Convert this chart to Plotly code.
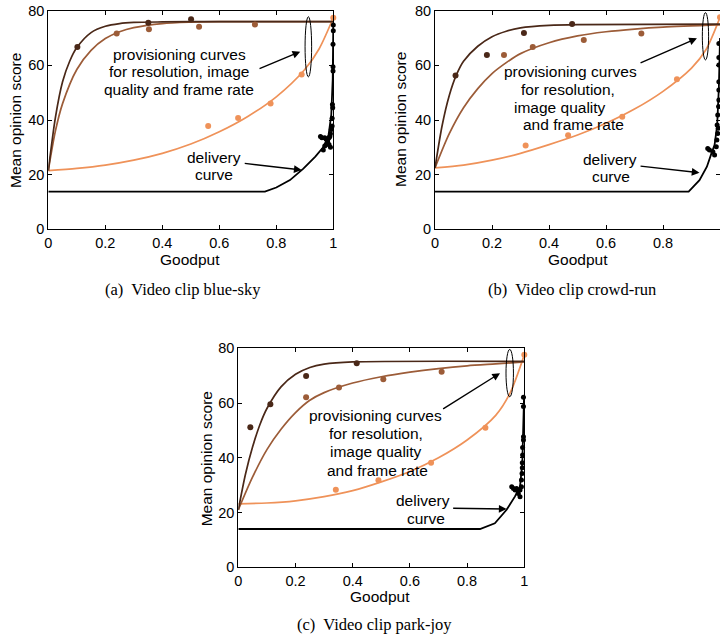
import plotly.graph_objects as go

# ---- axis ticks -------------------------------------------------------------
GOODPUT_TICKS = [0, 0.2, 0.4, 0.6, 0.8, 1]
GOODPUT_TICK_TEXT = ["0", "0.2", "0.4", "0.6", "0.8", "1"]
MOS_TICKS = [0, 20, 40, 60, 80]

# ---- (a) blue-sky -------------------------------------------------------------
bs_res_x = [0.102, 0.351, 0.501]
bs_res_y = [66.7, 75.6, 76.9]
bs_qual_x = [0.240, 0.353, 0.529, 0.725]
bs_qual_y = [71.7, 73.2, 74.1, 75.0]
bs_rate_x = [0.561, 0.666, 0.780, 0.889, 1.0]
bs_rate_y = [37.8, 40.7, 46.0, 56.7, 77.4]

bs_res_curve_x = [0, 0.025, 0.05, 0.075, 0.1, 0.15, 0.2, 0.25, 0.3, 0.4, 0.5, 1.0]
bs_res_curve_y = [21.5, 41, 54, 61.5, 66.5, 72, 74.3, 75.3, 75.7, 75.9, 76, 76]
bs_qual_curve_x = [0, 0.025, 0.05, 0.1, 0.15, 0.2, 0.25, 0.3, 0.4, 0.5, 0.6, 1.0]
bs_qual_curve_y = [21.5, 36, 46, 58.5, 65.5, 69.8, 72.3, 73.8, 75.3, 75.8, 76, 76]
bs_rate_curve_x = [0, 0.1, 0.2, 0.3, 0.4, 0.5, 0.6, 0.7, 0.8, 0.9, 0.95, 1.0]
bs_rate_curve_y = [21.5, 22.3, 23.5, 25.3, 27.8, 31.2, 35.7, 41.3, 48.5, 58.5, 66, 77.4]

bs_deliv_x = [0, 0.76, 0.80, 0.848, 0.895, 0.937, 0.966, 0.983, 0.993, 0.998, 1.0]
bs_deliv_y = [13.8, 13.8, 15.3, 18.0, 22.2, 26.6, 30.2, 34.1, 42, 55, 75]
bs_meas_x = [1.0, 1.0, 0.999, 0.999, 0.999, 0.997, 0.998, 0.996, 0.996, 0.993, 0.99,
             0.988, 0.985, 0.98, 0.975, 0.97, 0.965, 0.96, 0.955, 0.985, 0.98, 0.99,
             0.975, 0.97]
bs_meas_y = [74.8, 72.7, 67.7, 59.5, 57.9, 45.7, 44.5, 40.6, 37.8, 36.5, 35, 34, 33.5,
             32, 31, 30.5, 29, 33.5, 34, 31, 32.5, 30, 33, 33.5]

# ---- (b) crowd-run -----------------------------------------------------------
cr_res_x = [0.072, 0.182, 0.312, 0.481]
cr_res_y = [56.3, 63.8, 71.8, 75.1]
cr_qual_x = [0.242, 0.343, 0.522, 0.724]
cr_qual_y = [63.8, 66.7, 69.3, 71.7]
cr_rate_x = [0.318, 0.467, 0.657, 0.849, 1.0]
cr_rate_y = [30.7, 34.4, 41.2, 54.9, 77.6]

cr_res_curve_x = [0, 0.025, 0.05, 0.075, 0.1, 0.15, 0.2, 0.25, 0.3, 0.4, 0.5, 1.0]
cr_res_curve_y = [22.5, 38, 49, 56.5, 61.5, 67, 70.5, 72.5, 73.7, 74.6, 74.9, 75.1]
cr_qual_curve_x = [0, 0.05, 0.1, 0.15, 0.2, 0.25, 0.3, 0.4, 0.5, 0.6, 0.7, 0.8, 1.0]
cr_qual_curve_y = [22.5, 35, 44.5, 51.5, 57, 61, 64.3, 68.3, 70.8, 72.3, 73.3, 74, 74.8]
cr_rate_curve_x = [0, 0.1, 0.2, 0.3, 0.4, 0.5, 0.6, 0.7, 0.8, 0.9, 0.95, 1.0]
cr_rate_curve_y = [22.5, 23.5, 25.3, 27.8, 31, 34.5, 38.8, 44, 50.5, 59, 65.6, 77.6]

cr_deliv_x = [0, 0.890, 0.928, 0.954, 0.970, 0.981, 0.990, 0.996, 1.0]
cr_deliv_y = [13.8, 13.8, 18.0, 22.9, 27.8, 30.9, 38, 52, 70]
cr_meas_x = [0.996, 0.996, 0.996, 0.996, 0.996, 0.992, 0.990, 0.992, 0.963, 0.975,
             0.981, 0.987, 0.957, 0.989, 0.994, 0.995, 0.996]
cr_meas_y = [68.0, 62.9, 60.1, 54.0, 47.3, 41.8, 38.2, 35.1, 29.0, 28.4, 27.2, 30.2,
             29.6, 32.7, 37.0, 44.9, 51.0]

# ---- (c) park-joy ------------------------------------------------------------
pj_res_x = [0.042, 0.112, 0.237, 0.414]
pj_res_y = [51.2, 59.6, 69.9, 74.5]
pj_qual_x = [0.237, 0.352, 0.507, 0.711]
pj_qual_y = [62.1, 65.7, 68.7, 71.4]
pj_rate_x = [0.341, 0.490, 0.674, 0.864, 1.0]
pj_rate_y = [28.3, 31.8, 38.2, 51.0, 77.6]

pj_res_curve_x = [0, 0.025, 0.05, 0.075, 0.1, 0.15, 0.2, 0.25, 0.3, 0.4, 1.0]
pj_res_curve_y = [21, 34, 44, 52, 58, 66, 70.5, 73, 74.2, 75, 75.2]
pj_qual_curve_x = [0, 0.05, 0.1, 0.15, 0.2, 0.25, 0.3, 0.4, 0.5, 0.6, 0.7, 0.8, 0.9, 1.0]
pj_qual_curve_y = [21, 33, 43, 50.5, 56.5, 61, 63.8, 67.3, 69.6, 71.3, 72.6, 73.6, 74.3, 75]
pj_rate_curve_x = [0, 0.1, 0.2, 0.3, 0.4, 0.5, 0.6, 0.7, 0.8, 0.9, 0.95, 1.0]
pj_rate_curve_y = [23.2, 23.5, 24.3, 25.8, 28, 31.2, 35, 40, 46.5, 55.5, 63.6, 77.6]

pj_deliv_x = [0, 0.845, 0.897, 0.938, 0.967, 0.985, 0.993, 0.997, 0.999]
pj_deliv_y = [14, 14, 16.1, 21, 25.8, 29.5, 38, 50, 62]
pj_meas_x = [0.997, 0.997, 0.997, 0.997, 0.994, 0.994, 0.993, 0.993, 0.992, 0.990,
             0.956, 0.968, 0.979, 0.985, 0.973, 0.990, 0.985, 0.962]
pj_meas_y = [62.1, 58.7, 47.7, 46.5, 43.8, 41.0, 38.2, 36.4, 34.3, 31.9,
             29.4, 28.2, 27.0, 25.8, 28.8, 29.4, 28.2, 28.8]

# ---- styling -------------------------------------------------------------------
RES_COLOR = "#4a2818"
QUAL_COLOR = "#9c5c38"
RATE_COLOR = "#ef9259"
SANS = "Liberation Sans, Arial, sans-serif"
SERIF = "Liberation Serif, Times New Roman, serif"
SANS_SIZE = 15.5
TICK_SIZE = 14.5
SERIF_SIZE = 16.5

fig = go.Figure()

panels = [
    ("x", "y",
     (bs_res_curve_x, bs_res_curve_y), (bs_qual_curve_x, bs_qual_curve_y),
     (bs_rate_curve_x, bs_rate_curve_y), (bs_deliv_x, bs_deliv_y),
     (bs_res_x, bs_res_y), (bs_qual_x, bs_qual_y), (bs_rate_x, bs_rate_y),
     (bs_meas_x, bs_meas_y)),
    ("x2", "y2",
     (cr_res_curve_x, cr_res_curve_y), (cr_qual_curve_x, cr_qual_curve_y),
     (cr_rate_curve_x, cr_rate_curve_y), (cr_deliv_x, cr_deliv_y),
     (cr_res_x, cr_res_y), (cr_qual_x, cr_qual_y), (cr_rate_x, cr_rate_y),
     (cr_meas_x, cr_meas_y)),
    ("x3", "y3",
     (pj_res_curve_x, pj_res_curve_y), (pj_qual_curve_x, pj_qual_curve_y),
     (pj_rate_curve_x, pj_rate_curve_y), (pj_deliv_x, pj_deliv_y),
     (pj_res_x, pj_res_y), (pj_qual_x, pj_qual_y), (pj_rate_x, pj_rate_y),
     (pj_meas_x, pj_meas_y)),
]

for (xa, ya, c_res, c_qual, c_rate, deliv, p_res, p_qual, p_rate, meas) in panels:
    for (cx, cy), col in ((c_rate, RATE_COLOR), (c_qual, QUAL_COLOR), (c_res, RES_COLOR)):
        fig.add_trace(go.Scatter(x=cx, y=cy, mode="lines", xaxis=xa, yaxis=ya,
                                 line=dict(color=col, width=1.7, shape="spline", smoothing=0.8),
                                 showlegend=False, hoverinfo="skip"))
    fig.add_trace(go.Scatter(x=deliv[0], y=deliv[1], mode="lines", xaxis=xa, yaxis=ya,
                             line=dict(color="black", width=1.8),
                             showlegend=False, hoverinfo="skip"))
    for (px, py), col in ((p_rate, RATE_COLOR), (p_qual, QUAL_COLOR), (p_res, RES_COLOR)):
        fig.add_trace(go.Scatter(x=px, y=py, mode="markers", xaxis=xa, yaxis=ya,
                                 marker=dict(color=col, size=6),
                                 cliponaxis=False, showlegend=False))
    fig.add_trace(go.Scatter(x=meas[0], y=meas[1], mode="markers", xaxis=xa, yaxis=ya,
                             marker=dict(color="black", size=5),
                             cliponaxis=False, showlegend=False))


def xaxis_style(domain, anchor):
    return dict(domain=domain, anchor=anchor, range=[0, 1], automargin=False,
                tickvals=GOODPUT_TICKS, ticktext=GOODPUT_TICK_TEXT,
                ticks="inside", ticklen=4, tickcolor="black", tickwidth=1,
                showline=True, linecolor="black", linewidth=1.2, mirror="ticks",
                showgrid=False, zeroline=False,
                tickfont=dict(family=SANS, size=TICK_SIZE, color="black"))


def yaxis_style(domain, anchor):
    return dict(domain=domain, anchor=anchor, range=[0, 80], automargin=False,
                tickvals=MOS_TICKS,
                ticks="inside", ticklen=4, tickcolor="black", tickwidth=1,
                showline=True, linecolor="black", linewidth=1.2, mirror="ticks",
                showgrid=False, zeroline=False,
                tickfont=dict(family=SANS, size=TICK_SIZE, color="black"))


annotations = []
shapes = []


def add_text(xa, ya, x, y, text):
    annotations.append(dict(xref=xa, yref=ya, x=x, y=y, text=text, showarrow=False,
                            font=dict(family=SANS, size=SANS_SIZE, color="black"),
                            xanchor="center", yanchor="middle"))


def add_arrow(xa, ya, tail, head):
    annotations.append(dict(xref=xa, yref=ya, axref=xa, ayref=ya,
                            x=head[0], y=head[1], ax=tail[0], ay=tail[1], text="",
                            showarrow=True, arrowhead=2, arrowsize=1.1,
                            arrowwidth=1.4, arrowcolor="black", standoff=0))


def add_ellipse(xa, ya, x0, x1, y0, y1):
    shapes.append(dict(type="circle", xref=xa, yref=ya, x0=x0, x1=x1, y0=y0, y1=y1,
                       line=dict(color="black", width=1)))


# (a)
for x, y, t in ((0.460, 63.8, "provisioning curves"),
                (0.460, 57.6, "for resolution, image"),
                (0.460, 51.0, "quality and frame rate"),
                (0.583, 26.4, "delivery"),
                (0.583, 20.2, "curve")):
    add_text("x", "y", x, y, t)
add_arrow("x", "y", (0.736, 58.6), (0.884, 65.0))
add_arrow("x", "y", (0.684, 24.2), (0.889, 21.7))
add_ellipse("x", "y", 0.901, 0.924, 55.8, 77.8)

# (b)
for x, y, t in ((0.476, 57.7, "provisioning curves"),
                (0.465, 51.2, "for resolution,"),
                (0.439, 44.6, "image quality"),
                (0.485, 38.2, "and frame rate"),
                (0.613, 25.4, "delivery"),
                (0.617, 19.3, "curve")):
    add_text("x2", "y2", x, y, t)
add_arrow("x2", "y2", (0.716, 60.7), (0.919, 69.9))
add_arrow("x2", "y2", (0.716, 23.2), (0.928, 20.7))
add_ellipse("x2", "y2", 0.938, 0.960, 62.0, 79.3)

# (c)
for x, y, t in ((0.480, 55.3, "provisioning curves"),
                (0.480, 48.9, "for resolution,"),
                (0.480, 42.2, "image quality"),
                (0.488, 35.5, "and frame rate"),
                (0.647, 24.3, "delivery"),
                (0.655, 17.9, "curve")):
    add_text("x3", "y3", x, y, t)
add_arrow("x3", "y3", (0.711, 57.5), (0.915, 70.9))
add_arrow("x3", "y3", (0.746, 21.6), (0.938, 21.3))
add_ellipse("x3", "y3", 0.936, 0.962, 62.3, 79.6)

# axis titles and captions (paper coordinates)
for x, y in ((0.2639, 0.5935), (0.8021, 0.5935), (0.5278, 0.0655)):
    annotations.append(dict(xref="paper", yref="paper", x=x, y=y, text="Goodput",
                            showarrow=False, xanchor="center", yanchor="middle",
                            font=dict(family=SANS, size=SANS_SIZE, color="black")))
for x, y in ((0.0208, 0.8119), (0.5569, 0.8135), (0.2861, 0.2816)):
    annotations.append(dict(xref="paper", yref="paper", x=x, y=y,
                            text="Mean opinion score", textangle=-90,
                            showarrow=False, xanchor="center", yanchor="middle",
                            font=dict(family=SANS, size=SANS_SIZE, color="black")))
for x, y, t in ((0.2535, 0.547, "(a)\u00a0 Video clip blue-sky"),
                (0.7940, 0.547, "(b)\u00a0 Video clip crowd-run"),
                (0.5208, 0.0219, "(c)\u00a0 Video clip park-joy")):
    annotations.append(dict(xref="paper", yref="paper", x=x, y=y, text=t,
                            showarrow=False, xanchor="center", yanchor="middle",
                            font=dict(family=SERIF, size=SERIF_SIZE, color="black")))

fig.update_layout(
    width=720, height=638,
    margin=dict(l=0, r=0, t=0, b=0, autoexpand=False),
    paper_bgcolor="white", plot_bgcolor="white",
    showlegend=False,
    xaxis=xaxis_style([0.0671, 0.4629], "y"),
    yaxis=yaxis_style([0.6406, 0.9832], "x"),
    xaxis2=xaxis_style([0.6042, 1.0], "y2"),
    yaxis2=yaxis_style([0.6406, 0.9832], "x2"),
    xaxis3=xaxis_style([0.3310, 0.7282], "y3"),
    yaxis3=yaxis_style([0.1108, 0.4541], "x3"),
    annotations=annotations,
    shapes=shapes,
)

fig.write_html("out.html")
